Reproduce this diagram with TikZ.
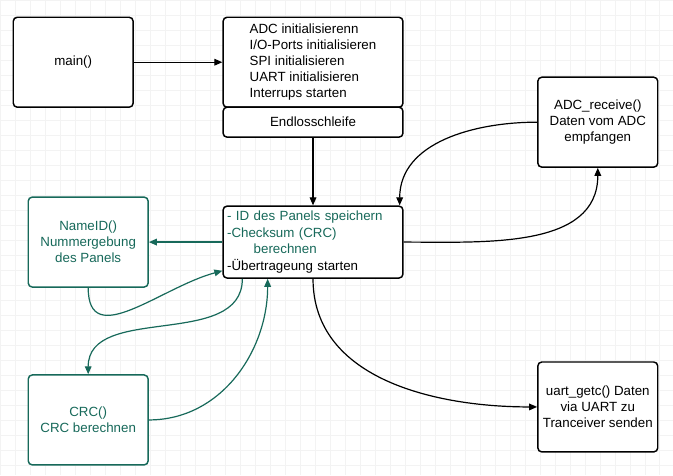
\documentclass[tikz,border=0pt]{standalone}
\usepackage{fontspec}
\setmainfont{Liberation Sans}
\usetikzlibrary{arrows.meta,positioning}
\definecolor{gn}{HTML}{17695A}
\definecolor{gd}{HTML}{F3F3F3}
\tikzset{
  blk/.style={draw, line width=1.1pt, rounded corners=3pt, fill=white, inner sep=0pt,
    align=center, font=\fontsize{10}{12}\selectfont},
  fn/.style={blk, minimum width=90pt, minimum height=67.5pt},
  gfn/.style={fn, draw=gn, text=gn},
  arr/.style={-{Triangle[length=6pt,width=5pt]}, line width=0.9pt},
  garr/.style={arr, draw=gn},
}

\begin{document}
\begin{tikzpicture}[x=0.75pt, y=-0.75pt]
  \fill[white] (0,0) rectangle (673,475);
  \draw[gd, line width=0.4pt] (0,0) grid[step=11.25pt] (673,475);
  \useasboundingbox (0,0) rectangle (673,475);

  \node[fn] (main) at (73,62) {main()};
  \node[blk, minimum width=135pt, minimum height=67.5pt, align=left] (init) at (313,62) {%
    ADC initialisierenn\\I/O-Ports initialisieren\\SPI initialisieren\\
    UART initialisieren\\Interrups starten};
  \node[blk, minimum width=135pt, minimum height=22.5pt] (loop) at (313,122) {Endlosschleife};
  \node[blk, text width=129pt, inner xsep=3pt, minimum height=54pt, align=left,
    font=\fontsize{10}{12.4}\selectfont] (tx) at (313,242) {%
    \textcolor{gn}{- ID des Panels speichern}\\
    \textcolor{gn}{-Checksum (CRC)}\\
    \hspace*{20pt}\textcolor{gn}{berechnen}\\
    -Übertrageung starten};
  \node[fn] (adc) at (598,122) {ADC\_receive()\\Daten vom ADC\\empfangen};
  \node[fn] (uart) at (598,407) {uart\_getc() Daten\\via UART zu\\Tranceiver senden};
  \node[gfn] (nameid) at (88,242) {NameID()\\Nummergebung\\des Panels};
  \node[gfn] (crc) at (88,420) {CRC()\\CRC berechnen};

  \draw[arr] (main) -- (init);
  \draw[arr] (loop) -- (tx);
  \draw[arr] (adc.west) to[out=180, in=90] ([xshift=-3pt]tx.north east);
  \draw[arr] (tx.east) to[out=0, in=270] (adc.south);
  \draw[arr] (tx.south) to[out=270, in=180] (uart.west);

  \draw[garr] (tx.west) -- (nameid.east);
  \draw[garr] (nameid.south) to[out=270, in=195, looseness=1.2] ([yshift=6pt]tx.south west);
  \draw[garr] ([xshift=15pt]tx.south west) to[out=270, in=90] (crc.north);
  \draw[garr] (crc.east) to[out=0, in=270] ([xshift=34pt]tx.south west);
\end{tikzpicture}
\end{document}
